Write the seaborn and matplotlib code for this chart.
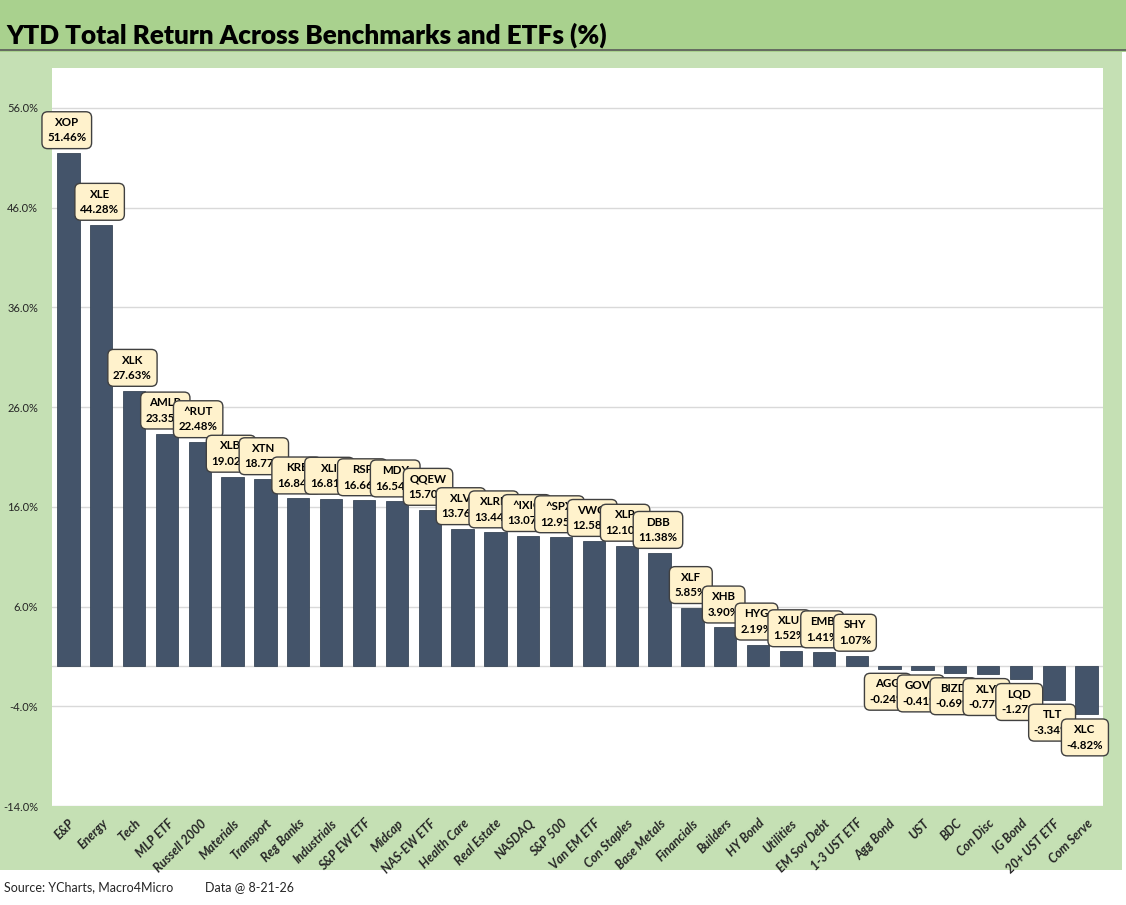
import matplotlib
matplotlib.use("Agg")
import matplotlib.pyplot as plt
import seaborn as sns
import pandas as pd
from matplotlib.patches import Rectangle
from matplotlib.ticker import FixedLocator

categories = ["E&P", "Energy", "Tech", "MLP ETF", "Russell 2000", "Materials", "Transport",
              "Reg Banks", "Industrials", "S&P EW ETF", "Midcap", "NAS-EW ETF", "Health Care",
              "Real Estate", "NASDAQ", "S&P 500", "Van EM ETF", "Con Staples", "Base Metals",
              "Financials", "Builders", "HY Bond", "Utilities", "EM Sov Debt", "1-3 UST ETF",
              "Agg Bond", "UST", "BDC", "Con Disc", "IG Bond", "20+ UST ETF", "Com Serve"]
tickers = ["XOP", "XLE", "XLK", "AMLP", "^RUT", "XLB", "XTN", "KRE", "XLI", "RSP", "MDY",
           "QQEW", "XLV", "XLRE", "^IXIC", "^SPX", "VWO", "XLP", "DBB", "XLF", "XHB", "HYG",
           "XLU", "EMB", "SHY", "AGG", "GOVT", "BIZD", "XLY", "LQD", "TLT", "XLC"]
values = [51.46, 44.28, 27.63, 23.35, 22.48, 19.02, 18.77, 16.84, 16.81, 16.66, 16.54,
          15.70, 13.76, 13.44, 13.07, 12.95, 12.58, 12.10, 11.38, 5.85, 3.90, 2.19,
          1.52, 1.41, 1.07, -0.24, -0.41, -0.69, -0.77, -1.27, -3.34, -4.82]
yticks = [-14, -4, 6, 16, 26, 36, 46, 56]

sns.set_theme(style="white")
plt.rcParams['font.family'] = ['Lato', 'DejaVu Sans']

df = pd.DataFrame({"cat": categories, "val": values})

W, H = 1126, 905
fig = plt.figure(figsize=(W / 100, H / 100), dpi=100, facecolor="white")

# background bands
fig.patches.append(Rectangle((0, 1 - 52 / H), 1, 52 / H, transform=fig.transFigure,
                             facecolor="#a9d18e", edgecolor="none", zorder=-10))
fig.patches.append(Rectangle((0, 1 - 870 / H), 1122 / W, (870 - 52) / H, transform=fig.transFigure,
                             facecolor="#c5e0b4", edgecolor="none", zorder=-10))
fig.add_artist(plt.Line2D([0, 1], [1 - 50.5 / H, 1 - 50.5 / H], transform=fig.transFigure,
                          color="#595959", lw=1.2, zorder=-5))

ax = fig.add_axes([52 / W, (H - 806) / H, (1103 - 52) / W, (806 - 68) / H])
ax.set_zorder(5)
ax.set_facecolor("white")

sns.barplot(data=df, x="cat", y="val", color="#44546a", width=0.68,
            edgecolor="#3a4859", linewidth=0.6, saturation=1, ax=ax)

ax.set_ylim(-14, 60)
ax.set_xlim(-0.5, len(categories) - 0.5)
ax.yaxis.set_major_locator(FixedLocator(yticks))
ax.set_yticklabels([f"{t:.1f}%" for t in yticks], fontsize=8)
ax.tick_params(axis="y", length=0, pad=10)
ax.grid(axis="y", color="#d9d9d9", lw=1)
ax.set_axisbelow(True)
ax.axhline(0, color="#d9d9d9", lw=1, zorder=0.5)
for s in ax.spines.values():
    s.set_visible(False)
ax.set_xlabel("")
ax.set_ylabel("")
ax.set_xticks(range(len(categories)))
ax.set_xticklabels(categories, rotation=45, ha="right", rotation_mode="anchor",
                   fontsize=9, fontweight="bold", fontstyle="italic")
ax.tick_params(axis="x", length=0, pad=8)

for i, (t, v) in enumerate(zip(tickers, values)):
    off = 7 if v >= 0 else -7
    ax.annotate(f"{t}\n{v:.2f}%", xy=(i - 0.05, v), xytext=(0, off), textcoords="offset points",
                ha="center", va="bottom" if v >= 0 else "top", multialignment="center",
                fontsize=8.3, fontweight="bold", color="black", linespacing=1.5, zorder=10 + i,
                bbox=dict(boxstyle="round,pad=0.45,rounding_size=0.5", facecolor="#fff2cc",
                          edgecolor="#404040", lw=1.0))

fig.text(6 / W, 1 - 44 / H, "YTD Total Return Across Benchmarks and ETFs (%)",
         fontsize=18.8, fontweight="heavy", ha="left", va="baseline", color="black")
fig.text(4 / W, 1 - 887 / H, "Source: YCharts, Macro4Micro", fontsize=9, ha="left", va="center")
fig.text(205 / W, 1 - 887 / H, "Data @ 8-21-26", fontsize=9, ha="left", va="center")

fig.savefig("out.png", dpi=100, facecolor="white")
